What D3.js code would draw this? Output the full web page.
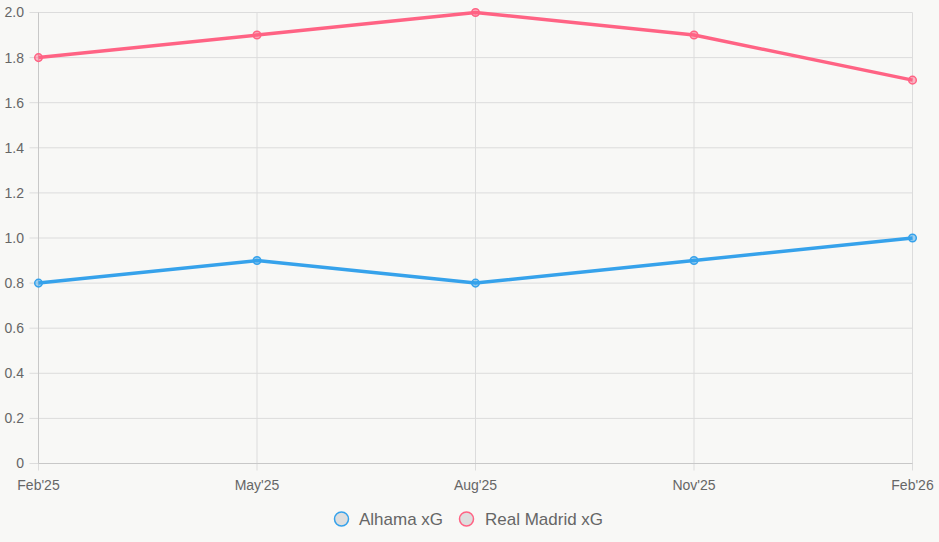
<!DOCTYPE html>
<html><head><meta charset="utf-8">
<script src="https://cdn.jsdelivr.net/npm/d3@7"></script>
<style>html,body{margin:0;padding:0;background:#f8f8f6;}svg{display:block;font-family:"Liberation Sans",Arial,sans-serif;}</style>
</head><body>
<script>
const categories = ["Feb'25","May'25","Aug'25","Nov'25","Feb'26"];
const alhamaXG = [0.8,0.9,0.8,0.9,1.0];
const realMadridXG = [1.8,1.9,2.0,1.9,1.7];
const yTicks = [0,0.2,0.4,0.6,0.8,1.0,1.2,1.4,1.6,1.8,2.0];
const seriesNames = ["Alhama xG","Real Madrid xG"];

const W=939,H=542;
const m={l:38.5,r:912.5,t:12.5,b:463.5};
const svg=d3.select("body").append("svg").attr("width",W).attr("height",H);
svg.append("rect").attr("width",W).attr("height",H).attr("fill","#f8f8f6");
const x=d3.scalePoint().domain(categories).range([m.l,m.r]);
const y=d3.scaleLinear().domain([0,2]).range([m.b,m.t]);

const g=svg.append("g");
g.selectAll("line.h").data(yTicks).join("line")
 .attr("x1",m.l-9).attr("x2",m.r).attr("y1",d=>y(d)).attr("y2",d=>y(d))
 .attr("stroke","#dcdcdc").attr("stroke-width",1);
g.selectAll("line.v").data(categories).join("line")
 .attr("x1",d=>x(d)).attr("x2",d=>x(d)).attr("y1",m.t).attr("y2",m.b+7)
 .attr("stroke","#dcdcdc").attr("stroke-width",1);
svg.append("line").attr("x1",m.l).attr("x2",m.r).attr("y1",m.b).attr("y2",m.b).attr("stroke","#c8c8c8");
svg.append("line").attr("x1",m.l).attr("x2",m.l).attr("y1",m.t).attr("y2",m.b).attr("stroke","#c8c8c8");

svg.append("g").selectAll("text").data(yTicks).join("text")
 .attr("x",24).attr("y",d=>y(d)).attr("dy","0.35em").attr("text-anchor","end")
 .attr("font-size",14).attr("fill","#666")
 .text(d=>d===0?"0":d.toFixed(1));
svg.append("g").selectAll("text").data(categories).join("text")
 .attr("x",d=>x(d)).attr("y",490).attr("text-anchor","middle")
 .attr("font-size",14).attr("fill","#666").text(d=>d);

const series=[
 {name:seriesNames[0],vals:alhamaXG,color:"rgb(54,162,235)",fill:"rgba(54,162,235,0.45)"},
 {name:seriesNames[1],vals:realMadridXG,color:"rgb(255,99,132)",fill:"rgba(255,99,132,0.45)"}
];
const line=d3.line().x((d,i)=>x(categories[i])).y(d=>y(d));
series.forEach(s=>{
 svg.append("path").attr("d",line(s.vals)).attr("fill","none").attr("stroke",s.color).attr("stroke-width",3.5).attr("stroke-linejoin","round");
 svg.append("g").selectAll("circle").data(s.vals).join("circle")
  .attr("cx",(d,i)=>x(categories[i])).attr("cy",d=>y(d)).attr("r",3.8)
  .attr("fill",s.fill).attr("stroke",s.color).attr("stroke-width",1.5);
});

const leg=[{cx:341.5,tx:359},{cx:466.5,tx:485}];
series.forEach((s,i)=>{
 svg.append("circle").attr("cx",leg[i].cx).attr("cy",519).attr("r",7)
  .attr("fill","#dedede").attr("stroke",s.color).attr("stroke-width",1.5);
 svg.append("text").attr("x",leg[i].tx).attr("y",519).attr("dy","0.35em")
  .attr("font-size",17).attr("fill","#666").text(s.name);
});
</script>
</body></html>
